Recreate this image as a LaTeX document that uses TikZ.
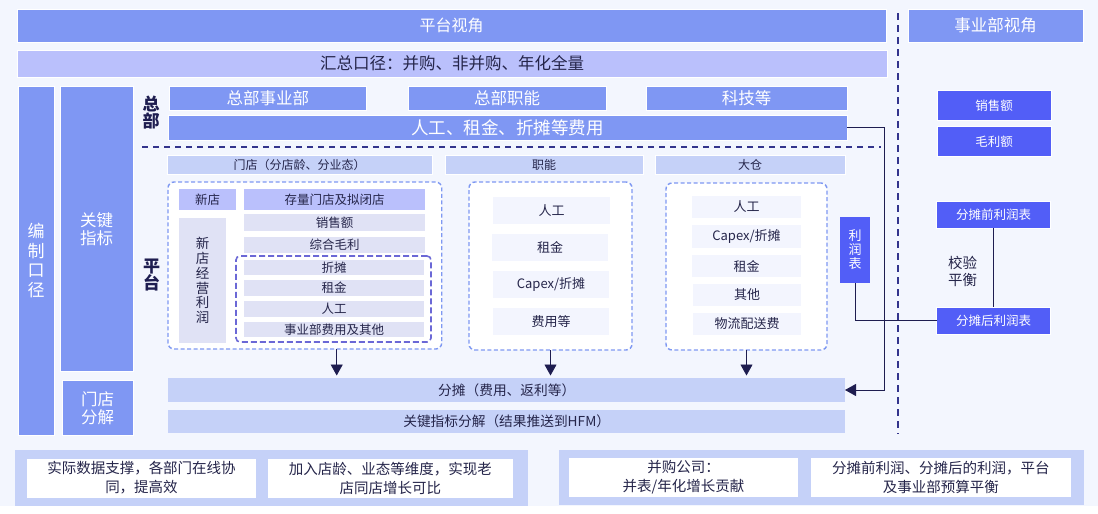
\documentclass[tikz,border=0pt]{standalone}
\usepackage{fontspec}
\setmainfont{Noto Sans CJK SC}
\usetikzlibrary{arrows.meta}
\definecolor{bgc}{HTML}{F3F6FE}
\definecolor{mainb}{HTML}{7F97F3}
\definecolor{lavb}{HTML}{BAC0FC}
\definecolor{hdrb}{HTML}{C5D1F8}
\definecolor{itemb}{HTML}{E0E2F5}
\definecolor{paleb}{HTML}{F3F5FE}
\definecolor{deepb}{HTML}{525EF7}
\definecolor{txt}{HTML}{25254A}
\definecolor{navy}{HTML}{1E1D50}
\definecolor{dashc}{HTML}{33348C}
\definecolor{boxdash}{HTML}{7E98F2}
\definecolor{innerdash}{HTML}{6B68D6}
\newcommand\fs[2]{\fontsize{#1}{#2}\selectfont}
\newcommand\bx[7]{\node[#2, minimum width={(#5-(#3))*1pt}, minimum height={(#6-(#4))*1pt}] (#1) at ({(#3+#5)/2},{(#4+#6)/2}) {#7};}
\begin{document}
\begin{tikzpicture}[x=1pt,y=-1pt,
  bxs/.style={rectangle, inner sep=0pt, outer sep=0pt, draw=white, line width=1pt, align=center},
  sblue/.style={bxs, fill=mainb, text=white},
  slav/.style={bxs, fill=lavb, text=txt},
  shdr/.style={bxs, fill=hdrb, text=txt},
  sitm/.style={bxs, fill=itemb, text=txt, draw=none},
  spale/.style={bxs, fill=paleb, text=txt, draw=none},
  sdeep/.style={bxs, fill=deepb, text=white},
  swhite/.style={bxs, fill=white, text=txt, draw=none},
  dbox/.style={bxs, draw=boxdash, fill=white, line width=1.4pt, dash pattern=on 4pt off 2.5pt, rounded corners=6pt},
  ibox/.style={bxs, draw=innerdash, fill=none, line width=1.6pt, dash pattern=on 6pt off 3pt, rounded corners=4pt},
  conn/.style={draw=navy, line width=0.9pt},
  arr/.style={conn, -{Triangle[width=12pt,length=11pt]}},
  biglbl/.style={text=navy, font=\fs{17}{17}\bfseries, align=center, inner sep=0pt}
]
\useasboundingbox (0,0) rectangle (1098,514);
\fill[bgc] (0,0) rectangle (1098,514);
\fill[white] (0,506) rectangle (1098,514);

% top bars
\bx{ptitle}{sblue, font=\fs{16}{18}}{17}{9}{886}{42.5}{平台视角}
\bx{sytitle}{sblue, font=\fs{16.5}{18}}{908}{9}{1083}{42.5}{事业部视角}
\bx{hz}{slav, font=\fs{16.5}{18}}{17}{50}{887}{77}{汇总口径：并购、非并购、年化全量}

% left columns
\bx{bz}{sblue, font=\fs{17}{19.6}}{18}{86}{54}{435}{编\\制\\口\\径}
\bx{gj}{sblue, font=\fs{16.5}{18}}{60}{86.5}{133}{371}{关键\\指标}
\bx{md}{sblue, font=\fs{16.5}{18}}{62}{380}{133}{435.7}{门店\\分解}

\node[biglbl] (lzb) at (151,112.5) {总\\部};
\node[biglbl] (lpt) at (151.5,275.5) {平\\台};

% HQ
\bx{zbsy}{sblue, font=\fs{16.5}{18}}{169}{86}{366.5}{110.7}{总部事业部}
\bx{zbzn}{sblue, font=\fs{16.5}{18}}{408}{86}{606}{110.7}{总部职能}
\bx{kj}{sblue, font=\fs{16.5}{18}}{646}{86}{847}{110.7}{科技等}
\bx{hqcost}{sblue, font=\fs{17.5}{19}}{168.4}{115}{847}{140}{人工、租金、折摊等费用}

\draw[dashc, line width=2pt, dash pattern=on 6pt off 5pt] (142,147.3) -- (881,147.3);

% headers
\bx{hmd}{shdr, font=\fs{12}{14}}{167}{155.7}{432}{174}{门店（分店龄、分业态）}
\bx{hzn}{shdr, font=\fs{12}{14}}{445}{155.7}{643}{174}{职能}
\bx{hdc}{shdr, font=\fs{12}{14}}{655}{155.7}{845}{174}{大仓}

% store box
\bx{store}{dbox}{168}{182}{441.7}{349}{}
\bx{xd}{slav, draw=none, font=\fs{12.5}{14}}{179}{189}{236}{210}{新店}
\bx{cl}{slav, draw=none, font=\fs{12.5}{14}}{244}{189}{425}{210}{存量门店及拟闭店}
\bx{xdlr}{sitm, font=\fs{13.5}{14.7}}{179}{218}{226}{343}{新\\店\\经\\营\\利\\润}
\bx{sxe}{sitm, font=\fs{12.5}{14}}{244}{214}{425}{231}{销售额}
\bx{zhml}{sitm, font=\fs{12.5}{14}}{244}{237}{425}{253}{综合毛利}
\bx{s1}{sitm, font=\fs{12.5}{14}}{244}{260}{424}{275}{折摊}
\bx{s2}{sitm, font=\fs{12.5}{14}}{244}{280}{424}{296}{租金}
\bx{s3}{sitm, font=\fs{12.5}{14}}{244}{301}{424}{317}{人工}
\bx{s4}{sitm, font=\fs{12.5}{14}}{244}{322}{424}{337}{事业部费用及其他}
\bx{inner}{ibox}{236}{256}{431}{342}{}

% function box
\bx{func}{dbox}{469}{182}{632}{350}{}
\bx{f1}{spale, font=\fs{13}{14}}{493}{197}{610}{224}{人工}
\bx{f2}{spale, font=\fs{13}{14}}{492}{234}{608}{261}{租金}
\bx{f3}{spale, font=\fs{13}{14}}{493}{271}{609}{298}{Capex/折摊}
\bx{f4}{spale, font=\fs{13}{14}}{493}{308}{609}{335}{费用等}

% warehouse box
\bx{wh}{dbox}{666}{183}{827}{350}{}
\bx{w1}{spale, font=\fs{13}{14}}{692}{196}{801}{218}{人工}
\bx{w2}{spale, font=\fs{13}{14}}{692}{225}{801}{248}{Capex/折摊}
\bx{w3}{spale, font=\fs{13}{14}}{692}{255}{801}{277}{租金}
\bx{w4}{spale, font=\fs{13}{14}}{693}{284}{801}{306}{其他}
\bx{w5}{spale, font=\fs{13}{14}}{693}{313}{801}{335}{物流配送费}

\bx{lrb}{sdeep, draw=none, font=\fs{13}{14}}{840}{217}{870}{283}{利\\润\\表}

% bottom bars
\bx{ftan}{shdr, draw=none, font=\fs{13.7}{16}}{168.4}{378}{845}{402}{分摊（费用、返利等）}
\bx{gjfj}{shdr, draw=none, font=\fs{13.7}{16}}{168.4}{410}{845}{433}{关键指标分解（结果推送到HFM）}

% right column
\bx{rxs}{sdeep, font=\fs{12.5}{14}}{937}{90.7}{1051}{120}{销售额}
\bx{rml}{sdeep, font=\fs{12.5}{14}}{937}{126.7}{1051}{156}{毛利额}
\bx{before}{sdeep, font=\fs{12.5}{14}}{936.5}{201}{1050.5}{228}{分摊前利润表}
\bx{after}{sdeep, font=\fs{12.5}{14}}{936.5}{307}{1050.5}{334}{分摊后利润表}
\node[text=txt, font=\fs{14.5}{17}, align=center, inner sep=0pt] (jy) at (962.5,271) {校验\\平衡};

\draw[dashc, line width=2pt, dash pattern=on 7pt off 5pt] (898,13) -- (898,434);

% connectors
\coordinate (xs) at (336.7,0);
\coordinate (xr) at (884.5,0);
\draw[arr, shorten >=2.5pt] (store.south -| xs) -- (ftan.north -| xs);
\draw[arr, shorten >=2.5pt] (func.south) -- (ftan.north -| func.south);
\draw[arr, shorten >=2.5pt] (wh.south) -- (ftan.north -| wh.south);
\draw[arr] (hqcost.east) -- (hqcost.east -| xr) -- (xr |- ftan.east) -- (ftan.east);
\draw[conn] (lrb.south) |- (after.west);
\draw[conn] (before.south) -- (after.north);

% bottom panels
\bx{pl}{shdr, draw=none}{15}{450}{528}{505.5}{}
\bx{b1}{swhite, font=\fs{14.5}{19}}{27}{458.5}{256}{497.5}{实际数据支撑，各部门在线协\\同，提高效}
\bx{b2}{swhite, font=\fs{14.5}{19}}{267.5}{458.5}{513}{497.5}{加入店龄、业态等维度，实现老\\店同店增长可比}
\bx{pr}{shdr, draw=none}{558.5}{449.5}{1084}{504.5}{}
\bx{b3}{swhite, font=\fs{14.5}{19}}{569}{458}{798}{497}{并购公司：\\并表/年化增长贡献}
\bx{b4}{swhite, font=\fs{14.5}{19}}{810.5}{458}{1071}{497}{分摊前利润、分摊后的利润，平台\\及事业部预算平衡}
\end{tikzpicture}
\end{document}
